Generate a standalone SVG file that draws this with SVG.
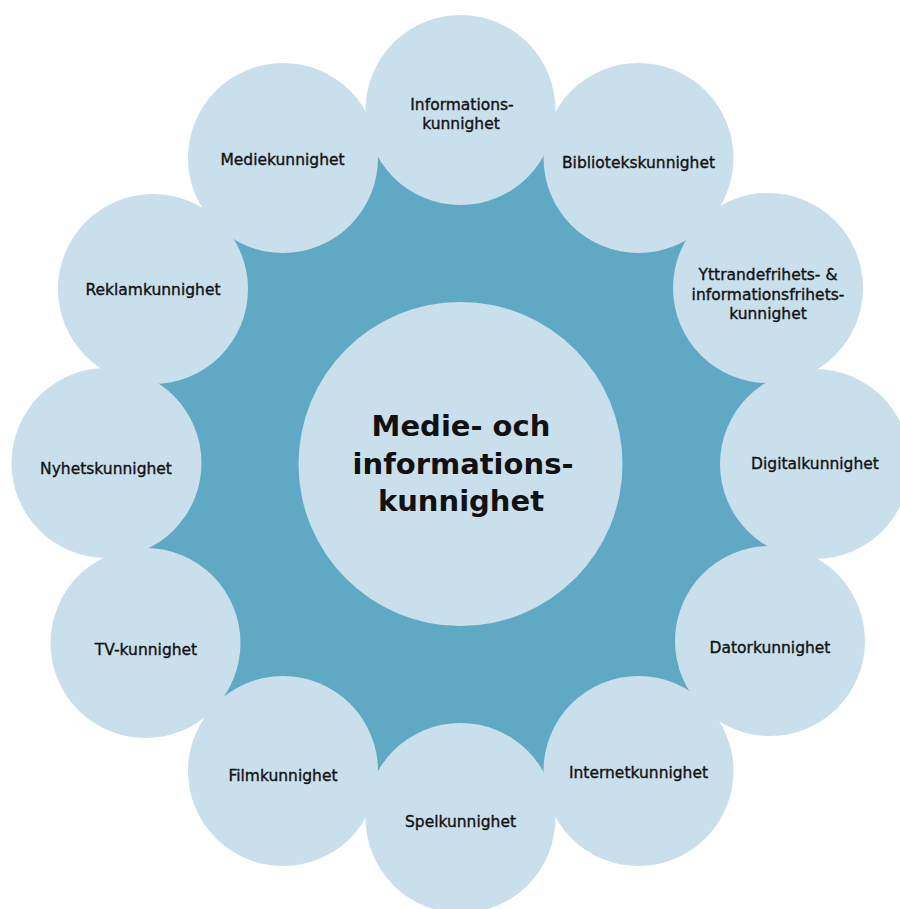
<svg xmlns="http://www.w3.org/2000/svg" width="900" height="909" viewBox="0 0 900 909">
<style>
.bg{fill:#60a9c5}
.c{fill:#c9dfeb}
.t{font-family:"DejaVu Sans","Noto Sans",sans-serif;font-size:15.5px;font-weight:400;fill:#111;stroke:#111;stroke-width:0.35px;text-anchor:middle}
.m{font-family:"DejaVu Sans","Noto Sans",sans-serif;font-size:29px;font-weight:700;fill:#111;text-anchor:middle}
</style>
<rect width="900" height="909" fill="#fff"/>
<g id="background"><circle class="bg" cx="460.5" cy="464" r="340"/></g>
<g id="connectors"></g>
<g id="n-informations"><circle class="c" cx="460.5" cy="110" r="95"/><text class="t" x="462" y="110">Informations-</text><text class="t" x="461" y="128.5">kunnighet</text></g>
<g id="n-bibliotek"><circle class="c" cx="638.5" cy="158" r="95"/><text class="t" x="638.5" y="168">Bibliotekskunnighet</text></g>
<g id="n-yttrande"><circle class="c" cx="768" cy="288" r="95"/><text class="t" x="768" y="280">Yttrandefrihets- &amp;</text><text class="t" x="768" y="299.5">informationsfrihets-</text><text class="t" x="768" y="319">kunnighet</text></g>
<g id="n-digital"><circle class="c" cx="815" cy="464" r="95"/><text class="t" x="815" y="469">Digitalkunnighet</text></g>
<g id="n-dator"><circle class="c" cx="770" cy="641" r="95"/><text class="t" x="770" y="653">Datorkunnighet</text></g>
<g id="n-internet"><circle class="c" cx="638.5" cy="771" r="95"/><text class="t" x="638.5" y="778">Internetkunnighet</text></g>
<g id="n-spel"><circle class="c" cx="460.5" cy="818" r="95"/><text class="t" x="460.5" y="827">Spelkunnighet</text></g>
<g id="n-film"><circle class="c" cx="283" cy="771" r="95"/><text class="t" x="283" y="781">Filmkunnighet</text></g>
<g id="n-tv"><circle class="c" cx="145.5" cy="643" r="95"/><text class="t" x="146" y="655">TV-kunnighet</text></g>
<g id="n-nyhets"><circle class="c" cx="106.5" cy="463" r="95"/><text class="t" x="106" y="474">Nyhetskunnighet</text></g>
<g id="n-reklam"><circle class="c" cx="153" cy="289" r="95"/><text class="t" x="153" y="295">Reklamkunnighet</text></g>
<g id="n-medie"><circle class="c" cx="283" cy="158" r="95"/><text class="t" x="282.5" y="165">Mediekunnighet</text></g>
<g id="n-center"><circle class="c" cx="460.5" cy="464" r="162"/><text class="m" x="461" y="436">Medie- och</text><text class="m" x="463" y="473.5">informations-</text><text class="m" x="461" y="511">kunnighet</text></g>
</svg>
